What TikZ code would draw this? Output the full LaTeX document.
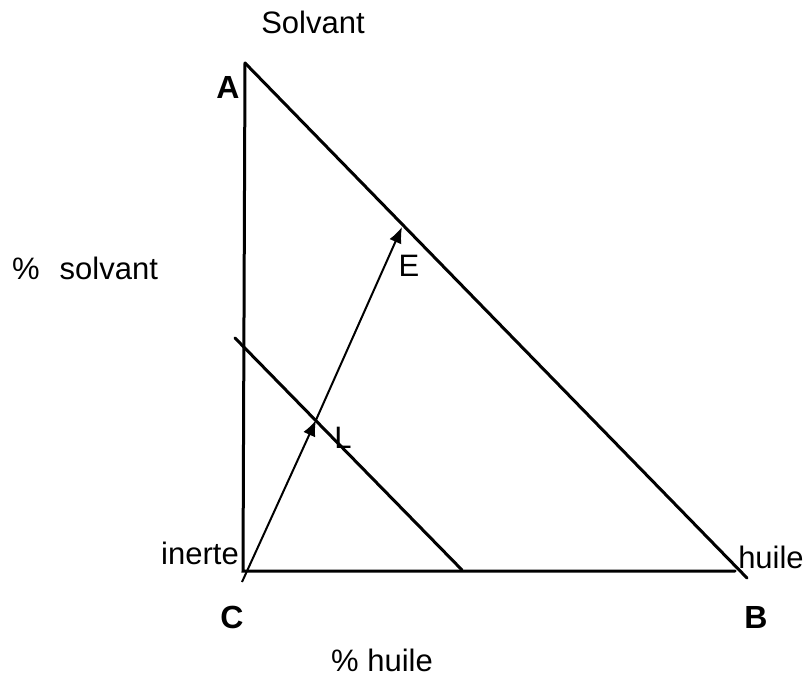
\documentclass[tikz,border=0pt]{standalone}
\usepackage{fontspec}
\setmainfont{Liberation Sans}
\usetikzlibrary{arrows.meta}
\begin{document}
\begin{tikzpicture}[
  x=1pt, y=-1pt,
  side/.style={line width=3pt, line cap=round},
  ray/.style={line width=2pt, -{Latex[length=16pt,width=13pt]}},
  word/.style={font=\fontsize{31}{33}\selectfont, inner sep=0pt},
  corner/.style={font=\fontsize{32}{34}\selectfont\bfseries, inner sep=0pt}
]
\useasboundingbox (0,0) rectangle (806,687);
\coordinate (A) at (245,63);
\coordinate (C) at (243,571);
\coordinate (Bb) at (735,571);
\coordinate (Bh) at (747,578);
\coordinate (I1) at (235,338);
\coordinate (I2) at (462,570);
\coordinate (O) at (242,582);
\coordinate (L) at (316,420);
\coordinate (E) at (402,227);
\draw[side] (A) -- (C) -- (Bb);
\draw[side] (A) -- (Bh);
\draw[side] (I1) -- (I2);
\draw[ray] (O) -- (L);
\draw[ray] (L) -- (E);
\node[word] (solvant) at (313,22) {Solvant};
\node[word] (psolvant) at (85,268) {\%\hspace{0.65em}solvant};
\node[word] (inerte) at (200,553) {inerte};
\node[word] (huile) at (771,557) {huile};
\node[word] (phuile) at (382,660) {\% huile};
\node[word] (lE) at (409,266) {E};
\node[word] (lL) at (343,438) {L};
\node[corner] (lA) at (228,87) {A};
\node[corner] (lC) at (232,617) {C};
\node[corner] (lB) at (756,617) {B};
\end{tikzpicture}
\end{document}
